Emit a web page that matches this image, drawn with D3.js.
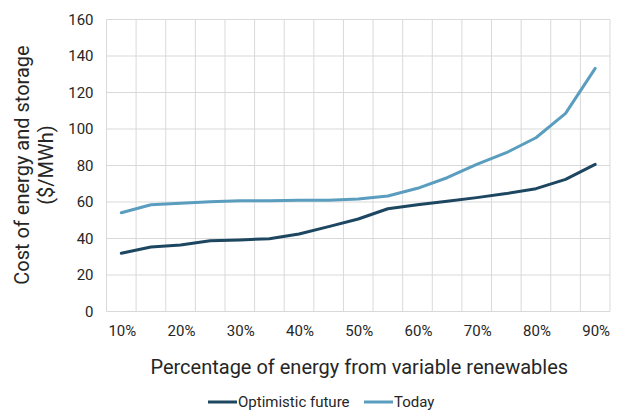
<!DOCTYPE html>
<html><head><meta charset="utf-8">
<script src="https://cdn.jsdelivr.net/npm/d3@7"></script>
<style>body{margin:0;background:#fff;} text{font-family:Roboto,"Noto Sans",sans-serif;fill:#262626;}</style>
</head><body><svg id="c" width="623" height="412"></svg>
<script>
const categories = ["10%","15%","20%","25%","30%","35%","40%","45%","50%","55%","60%","65%","70%","75%","80%","85%","90%"];
const optimistic = [31.9,35.3,36.4,38.8,39.2,39.9,42.5,46.5,50.7,56.3,58.5,60.4,62.4,64.6,67.3,72.4,80.6];
const today = [54.1,58.5,59.3,60.2,60.7,60.7,60.9,61.0,61.6,63.3,67.5,73.3,80.6,87.0,95.2,108.6,133.2];
const yTicks = [0,20,40,60,80,100,120,140,160];
const xLabels = ["10%","20%","30%","40%","50%","60%","70%","80%","90%"];
const seriesNames = ["Optimistic future","Today"];
const colors = ["#1d4660","#5a9dbf"];

const svg = d3.select("#c");
const L=106.5, R=610, T=19.5, B=311.5;
const x = d3.scaleBand().domain(categories).range([L,R]);
const y = d3.scaleLinear().domain([0,160]).range([B,T]);

const g = svg.append("g");
g.selectAll(".hg").data(yTicks).join("line")
  .attr("x1",L).attr("x2",R).attr("y1",d=>y(d)).attr("y2",d=>y(d))
  .attr("stroke","#d9d9d9").attr("stroke-width",1);
const bounds = categories.map(c=>x(c)).concat([R]);
g.selectAll(".vg").data(bounds).join("line")
  .attr("x1",d=>d).attr("x2",d=>d).attr("y1",T).attr("y2",B)
  .attr("stroke","#d9d9d9").attr("stroke-width",1);

g.selectAll(".yt").data(yTicks).join("text")
  .attr("x",L-13).attr("y",d=>y(d)).attr("dy","0.35em")
  .attr("text-anchor","end").style("font-size","15px").text(d=>d);
g.selectAll(".xt").data(xLabels).join("text")
  .attr("x",d=>x(d)+x.bandwidth()/2+1).attr("y",B+19.5)
  .attr("dy","0.35em").attr("text-anchor","middle").style("font-size","15px").text(d=>d);

const line = d3.line().x((d,i)=>x(categories[i])+x.bandwidth()/2).y(d=>y(d));
[optimistic,today].forEach((s,i)=>{
  svg.append("path").datum(s).attr("d",line).attr("fill","none")
    .attr("stroke",colors[i]).attr("stroke-width",3).attr("stroke-linejoin","round").attr("stroke-linecap","round");
});

svg.append("text").attr("x",(L+R)/2+1).attr("y",367).attr("dy","0.35em")
  .attr("text-anchor","middle").style("font-size","20px").text("Percentage of energy from variable renewables");
const yt = svg.append("text").attr("transform",`translate(0,165) rotate(-90)`).attr("text-anchor","middle").style("font-size","20px");
yt.append("tspan").attr("x",0).attr("y",29).text("Cost of energy and storage");
yt.append("tspan").attr("x",0).attr("y",53).text("($/MWh)");

const leg = [{x:208,name:seriesNames[0],c:colors[0]},{x:364,name:seriesNames[1],c:colors[1]}];
leg.forEach(l=>{
  svg.append("line").attr("x1",l.x).attr("x2",l.x+29).attr("y1",402).attr("y2",402).attr("stroke",l.c).attr("stroke-width",3);
  svg.append("text").attr("x",l.x+30).attr("y",402).attr("dy","0.35em").style("font-size","15px").text(l.name);
});
</script></body></html>
